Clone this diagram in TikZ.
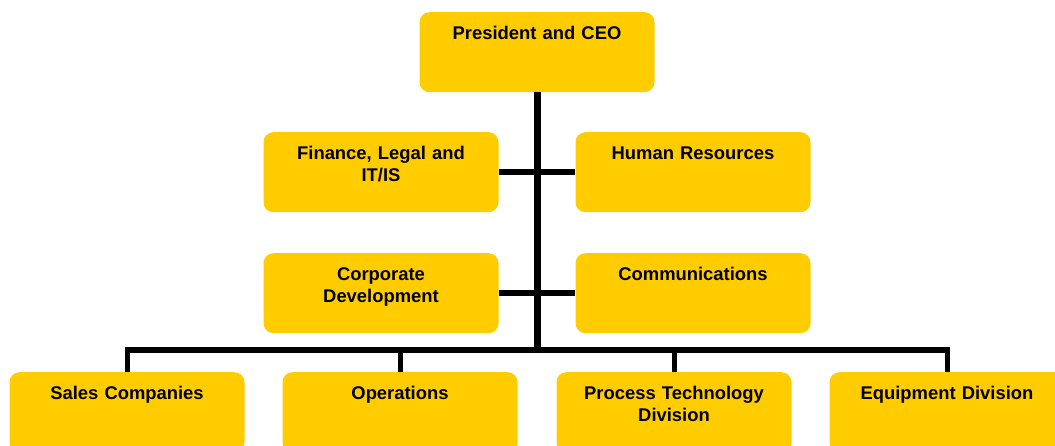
\documentclass[tikz,border=0pt]{standalone}
\usepackage{fontspec}
\setmainfont{Liberation Sans}
\usetikzlibrary{positioning,calc}
\definecolor{unityellow}{RGB}{255,204,0}
\tikzset{
    unit/.style={rectangle,rounded corners=10pt,fill=unityellow,anchor=north,
        minimum width=235pt,text width=215pt,align=center,inner sep=0pt,
        text height=27pt,text depth=53pt,
        font=\fontsize{18.4}{22.5}\selectfont\bfseries},
    wire/.style={draw=black,line width=6pt},
    buswire/.style={draw=black,line width=5pt}
}

\begin{document}
\begin{tikzpicture}[x=1pt,y=-1pt]
            \useasboundingbox (0,0) rectangle (1055,446);
            % top
            \node[unit] (ceo) at (537,12) {President and CEO};
            % staff functions
            \node[unit] (fin) at (381,132) {Finance, Legal and\\IT/IS};
            \node[unit] (hr) at (693,132) {Human Resources};
            \node[unit] (corp) at (381,253) {Corporate\\Development};
            \node[unit] (comm) at (693,253) {Communications};
            % line units
            \node[unit] (sales) at (127,372) {Sales Companies};
            \node[unit] (ops) at (400,372) {Operations};
            \node[unit] (proc) at (674,372) {Process Technology\\Division};
            \node[unit] (equip) at (947,372) {Equipment Division};
            \coordinate (bus) at (537,350);
            \draw[wire,line width=7pt] (ceo.south) -- (bus);
            \draw[wire] (fin.east) -- (hr.west);
            \draw[wire] (corp.east) -- (comm.west);
            \draw[buswire] (sales.north) -- (sales.north |- bus) -- (equip.north |- bus) -- (equip.north);
            \draw[buswire] (ops.north) -- (ops.north |- bus);
            \draw[buswire] (proc.north) -- (proc.north |- bus);
        \end{tikzpicture}
\end{document}
